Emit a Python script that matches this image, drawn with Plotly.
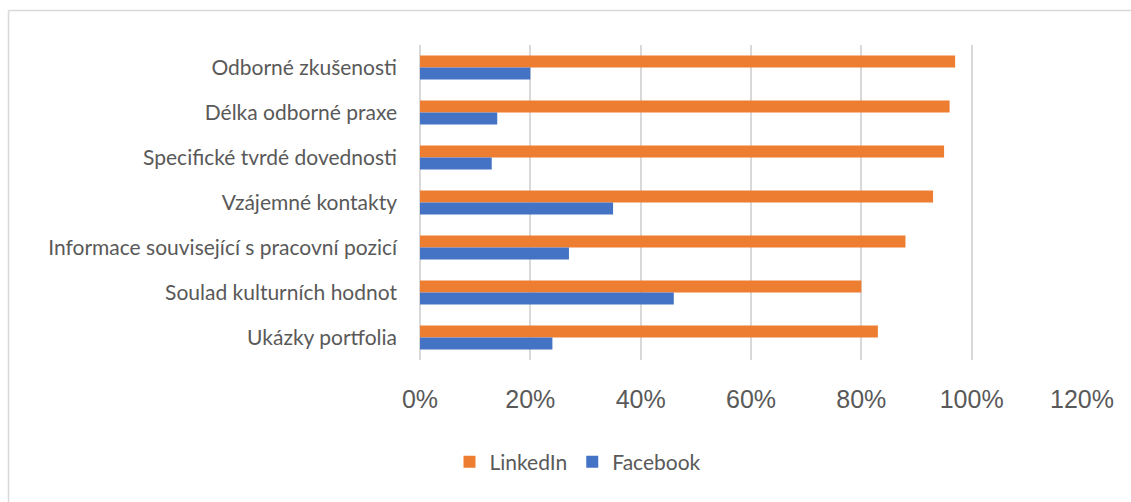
import plotly.graph_objects as go

categories = [
    "Odborné zkušenosti",
    "Délka odborné praxe",
    "Specifické tvrdé dovednosti",
    "Vzájemné kontakty",
    "Informace související s pracovní pozicí",
    "Soulad kulturních hodnot",
    "Ukázky portfolia",
]
linkedin = [0.97, 0.96, 0.95, 0.93, 0.88, 0.80, 0.83]
facebook = [0.20, 0.14, 0.13, 0.35, 0.27, 0.46, 0.24]
tick_vals = [0, 0.2, 0.4, 0.6, 0.8, 1.0, 1.2]
tick_text = ["0%", "20%", "40%", "60%", "80%", "100%", "120%"]

W, H = 1131, 502
L, R, T, B = 420, 49, 45, 142
pw, ph = W - L - R, H - T - B

def px(x):
    return (x - L) / pw

def py(y):
    return (H - B - y) / ph

fig = go.Figure()
fig.add_trace(go.Bar(y=categories, x=linkedin, orientation="h", name="LinkedIn",
                     marker=dict(color="#ED7D31", line=dict(width=0))))
fig.add_trace(go.Bar(y=categories, x=facebook, orientation="h", name="Facebook",
                     marker=dict(color="#4472C4", line=dict(width=0))))

fig.update_layout(
    width=W, height=H,
    margin=dict(l=L, r=R, t=T, b=B),
    paper_bgcolor="white", plot_bgcolor="white",
    barmode="group", bargap=0.467, bargroupgap=0,
    font=dict(family="Lato, Open Sans, sans-serif", color="#595959"),
    showlegend=True,
    legend=dict(orientation="h", x=px(578), y=py(462), xanchor="center", yanchor="middle",
                font=dict(size=21, color="#595959"), traceorder="normal",
                itemwidth=30, itemsizing="constant"),
    xaxis=dict(range=[0, 1.2], tickvals=tick_vals, ticktext=tick_text,
               showgrid=True, gridcolor="#d9d9d9", gridwidth=1.5,
               zeroline=True, zerolinecolor="#d9d9d9", zerolinewidth=1.5,
               showline=False, ticks="", ticklabelstandoff=22,
               tickfont=dict(family="Liberation Sans Narrow, Arial Narrow, sans-serif", size=25, color="#595959"),
               fixedrange=True),
    yaxis=dict(autorange="reversed", showgrid=False, zeroline=False, showline=False,
               ticks="", ticklabelstandoff=22,
               tickfont=dict(family="Lato, Open Sans, sans-serif", size=21, color="#595959"),
               fixedrange=True),
    shapes=[
        dict(type="line", xref="paper", yref="paper", x0=px(8.5), y0=py(10.5), x1=px(1140), y1=py(10.5),
             line=dict(color="#d9d9d9", width=1.5)),
        dict(type="line", xref="paper", yref="paper", x0=px(8.5), y0=py(10.5), x1=px(8.5), y1=py(520),
             line=dict(color="#d9d9d9", width=1.5)),
    ],
)

fig.write_html("out.html")
